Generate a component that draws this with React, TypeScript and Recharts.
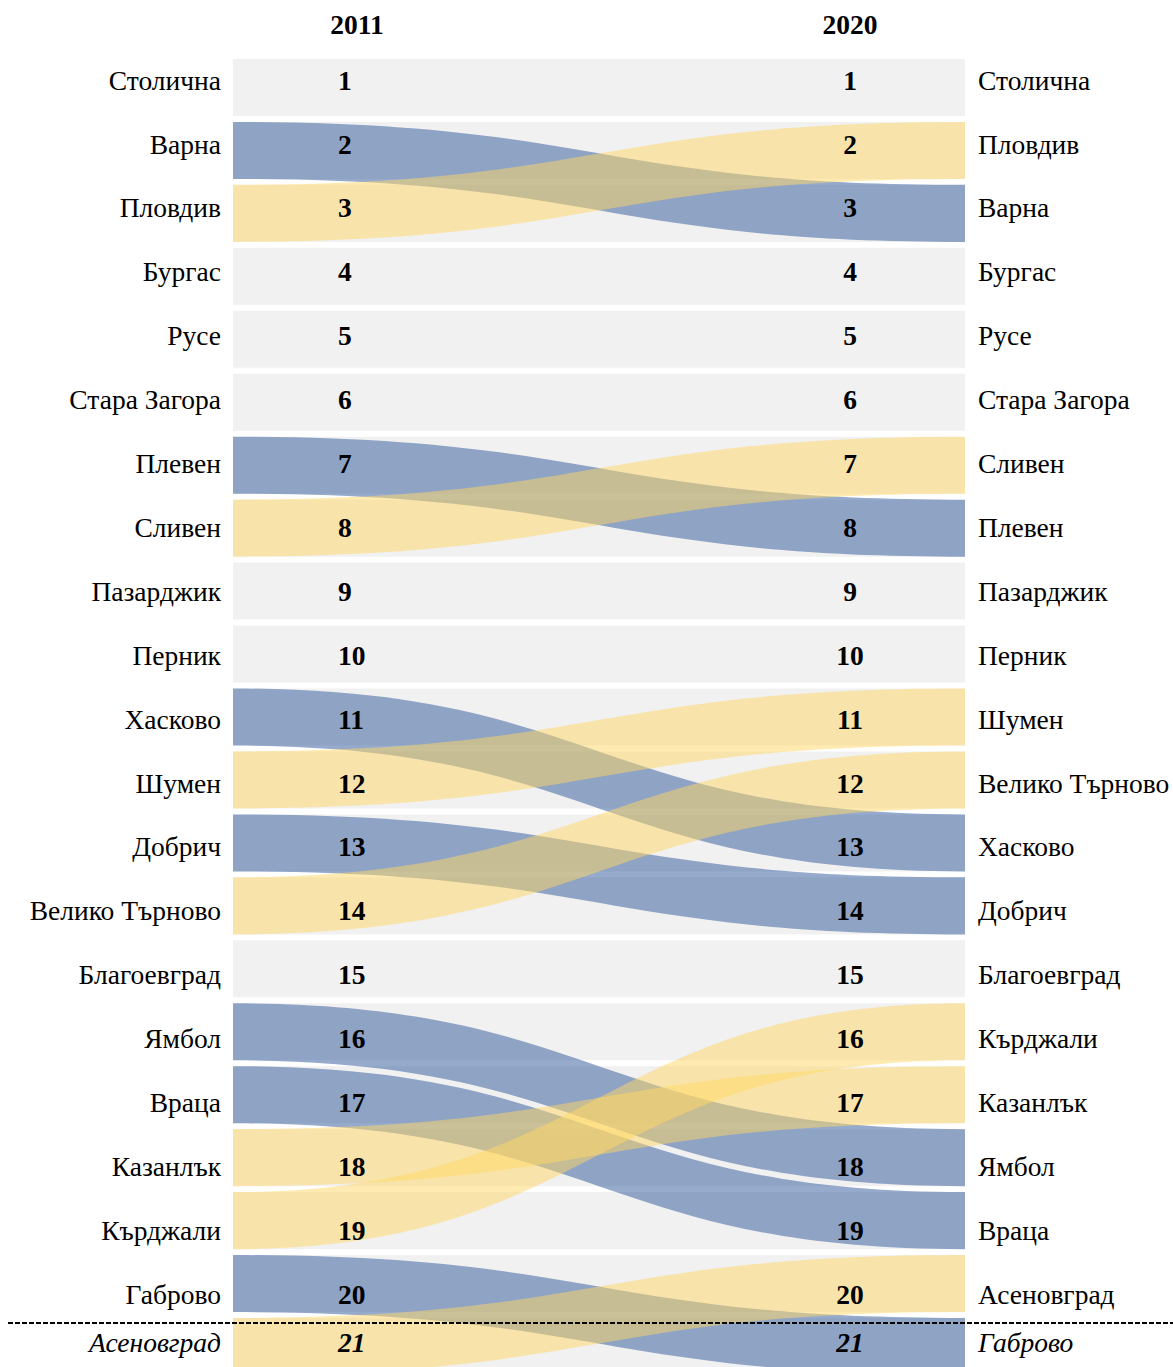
import { ComposedChart, Area, XAxis, YAxis } from "recharts";

// rank order of the cities in each year (index 0 = rank 1)
const years = ["2011", "2020"];
const cities2011 = ["Столична", "Варна", "Пловдив", "Бургас", "Русе", "Стара Загора", "Плевен", "Сливен", "Пазарджик", "Перник", "Хасково", "Шумен", "Добрич", "Велико Търново", "Благоевград", "Ямбол", "Враца", "Казанлък", "Кърджали", "Габрово", "Асеновград"];
const cities2020 = ["Столична", "Пловдив", "Варна", "Бургас", "Русе", "Стара Загора", "Сливен", "Плевен", "Пазарджик", "Перник", "Шумен", "Велико Търново", "Хасково", "Добрич", "Благоевград", "Кърджали", "Казанлък", "Ямбол", "Враца", "Асеновград", "Габрово"];
const ranks = cities2011.map((_, i) => i + 1);

const HALF = 0.453; // half row height in rank units
const BLUE = "#2e569a";
const YELLOW = "#ffd864";
const FONT = "'Liberation Serif', 'Times New Roman', serif";
const FS = 27.5;
const LAST = ranks.length;

const ribbons = cities2011
  .map((c) => ({ city: c, from: cities2011.indexOf(c) + 1, to: cities2020.indexOf(c) + 1 }))
  .filter((r) => r.from !== r.to);
const falling = ribbons.filter((r) => r.to > r.from);
const rising = ribbons.filter((r) => r.to < r.from);

const table = [0, 1].map((x) => {
  const row: any = { x };
  ranks.forEach((r) => (row["band" + r] = [r - HALF, r + HALF]));
  ribbons.forEach((r) => {
    const v = x === 0 ? r.from : r.to;
    row[r.city] = [v - HALF, v + HALF];
  });
  return row;
});

const LeftTick = (props: any) => {
  const { x, y, payload } = props;
  const r = payload.value;
  const last = r === LAST;
  const yy = last ? y - 16 : y;
  return (
    <g fontFamily={FONT} fontSize={FS} fill="#000">
      {last && (
        <line x1={0} x2={1165} y1={y - 35} y2={y - 35} stroke="#000" strokeWidth={2} strokeDasharray="5 2" />
      )}
      <text x={x} y={yy} dy="0.35em" textAnchor="end" fontStyle={last ? "italic" : "normal"}>
        {cities2011[r - 1]}
      </text>
      <text x={x + 117} y={yy} dy="0.35em" textAnchor="start" fontWeight="bold" fontStyle={last ? "italic" : "normal"}>
        {r}
      </text>
    </g>
  );
};

const RightTick = (props: any) => {
  const { x, y, payload } = props;
  const r = payload.value;
  const last = r === LAST;
  const yy = last ? y - 16 : y;
  return (
    <g fontFamily={FONT} fontSize={FS} fill="#000">
      <text x={x} y={yy} dy="0.35em" textAnchor="start" fontStyle={last ? "italic" : "normal"}>
        {cities2020[r - 1]}
      </text>
      <text x={x - 128} y={yy} dy="0.35em" textAnchor="middle" fontWeight="bold" fontStyle={last ? "italic" : "normal"}>
        {r}
      </text>
    </g>
  );
};

const YearTick = (props: any) => {
  const { x, y, payload } = props;
  const dx = payload.value === 0 ? 124 : -115;
  return (
    <text x={x + dx} y={y} dy="0.35em" textAnchor="middle" fontFamily={FONT} fontSize={FS} fontWeight="bold" fill="#000">
      {years[payload.value]}
    </text>
  );
};

const labelDomain = [0.624, 21.313];

export default function App() {
  return (
    <div style={{ position: "absolute", left: 8, top: 8, width: 1165, height: 1359, overflow: "hidden" }}>
      <ComposedChart width={1165} height={1370} data={table} margin={{ top: 0, right: 0, bottom: 0, left: 0 }}>
        <XAxis type="number" dataKey="x" domain={[0, 1]} orientation="top" height={48} ticks={[0, 1]}
          axisLine={false} tickLine={false} tickSize={0} tickMargin={32} tick={<YearTick />} />
        <YAxis yAxisId="rows" type="number" domain={[0.5, 21.5]} reversed hide allowDataOverflow />
        <YAxis yAxisId="left" orientation="left" type="number" width={225} domain={labelDomain} reversed
          allowDataOverflow ticks={ranks} interval={0} axisLine={false} tickLine={false} tickSize={0}
          tickMargin={12} tick={<LeftTick />} />
        <YAxis yAxisId="right" orientation="right" type="number" width={208} domain={labelDomain} reversed
          allowDataOverflow ticks={ranks} interval={0} axisLine={false} tickLine={false} tickSize={0}
          tickMargin={13} tick={<RightTick />} />
        {ranks.map((r) => (
          <Area key={"b" + r} yAxisId="rows" type="linear" dataKey={"band" + r} fill="#f1f1f1" fillOpacity={1}
            stroke="none" dot={false} activeDot={false} isAnimationActive={false} />
        ))}
        {falling.map((r) => (
          <Area key={r.city} yAxisId="rows" type="bumpX" dataKey={r.city} fill={BLUE} fillOpacity={0.5}
            stroke="none" dot={false} activeDot={false} isAnimationActive={false} />
        ))}
        {rising.map((r) => (
          <Area key={r.city} yAxisId="rows" type="bumpX" dataKey={r.city} fill={YELLOW} fillOpacity={0.5}
            stroke="none" dot={false} activeDot={false} isAnimationActive={false} />
        ))}
      </ComposedChart>
    </div>
  );
}
